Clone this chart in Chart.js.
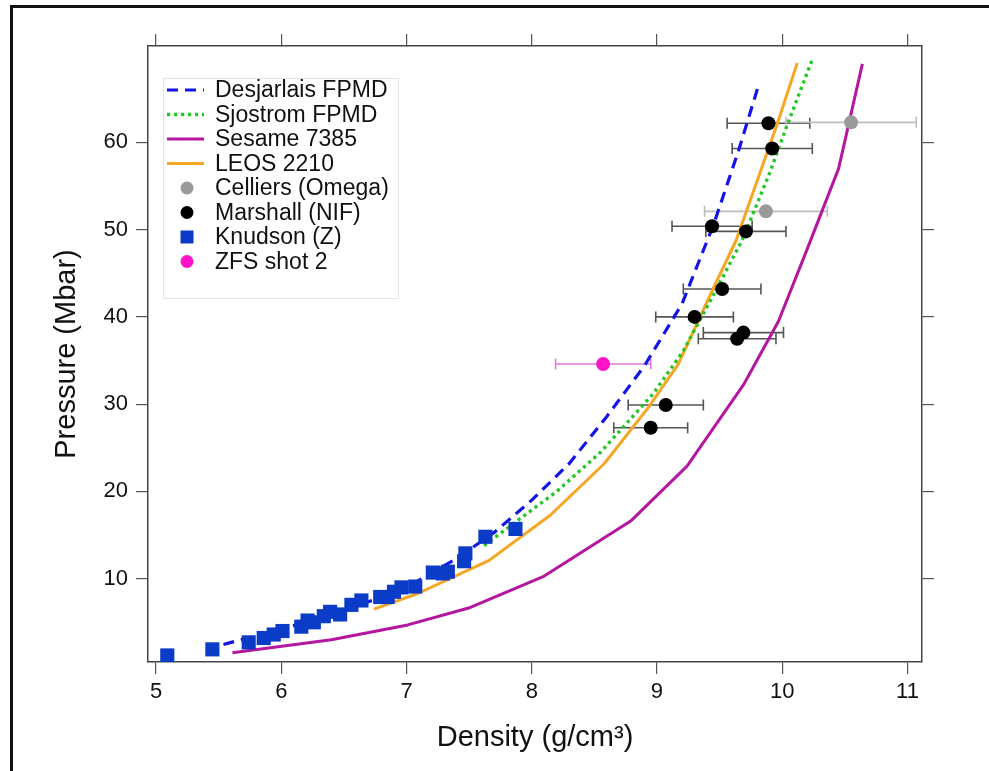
<!DOCTYPE html>
<html><head><meta charset="utf-8">
<script src="https://cdn.jsdelivr.net/npm/chart.js@4.4.1/dist/chart.umd.min.js"></script>
<style>
html,body{margin:0;padding:0;background:#fff;}
#wrap{position:relative;width:989px;height:771px;overflow:hidden;background:#fff;}
#frame{position:absolute;left:10px;top:5px;width:1200px;height:1000px;border-top:3px solid #111;border-left:3px solid #111;pointer-events:none;}
canvas{position:absolute;left:0;top:0;}
</style></head><body>
<div id="wrap"><canvas id="c" width="989" height="771"></canvas><div id="frame"></div></div>
<script>
// ---- tick labels ----
const xTicks = [5, 6, 7, 8, 9, 10, 11];
const yTicks = [10, 20, 30, 40, 50, 60];

// ---- model curves (density g/cm3, pressure Mbar) ----
const desjarlaisDensity  = [5.40, 5.60, 6.00, 6.50, 7.00, 7.40, 7.70, 8.00, 8.30, 8.60, 8.90, 9.20, 9.45, 9.65, 9.81];
const desjarlaisPressure = [1.9, 2.7, 4.2, 6.3, 9.0, 12.3, 15.3, 19.0, 23.2, 28.6, 34.4, 41.5, 50.5, 59.0, 66.5];

const sjostromDensity  = [7.62, 7.90, 8.20, 8.55, 8.97, 9.21, 9.45, 9.68, 9.90, 10.04, 10.24];
const sjostromPressure = [13.8, 16.8, 20.0, 24.5, 31.2, 36.1, 42.5, 48.8, 56.5, 62.0, 69.5];

const sesameDensity  = [5.61, 6.40, 7.01, 7.51, 8.10, 8.79, 9.24, 9.69, 9.97, 10.20, 10.45, 10.64];
const sesamePressure = [1.5, 3.0, 4.7, 6.7, 10.3, 16.6, 22.9, 32.2, 39.5, 47.8, 57.0, 69.0];

const leosDensity  = [6.74, 7.09, 7.66, 8.15, 8.58, 8.93, 9.17, 9.45, 9.63, 9.96, 10.12];
const leosPressure = [6.5, 8.3, 12.1, 17.3, 23.2, 29.6, 34.6, 43.3, 48.7, 62.1, 69.1];

// ---- experiments ----
const celliersDensity  = [10.55, 9.87];
const celliersPressure = [62.3, 52.1];
const celliersDensityErr = [0.52, 0.49];

const marshallDensity  = [9.89, 9.92, 9.44, 9.71, 9.52, 9.30, 9.69, 9.64, 9.07, 8.95];
const marshallPressure = [62.2, 59.3, 50.4, 49.8, 43.2, 40.0, 38.2, 37.5, 29.9, 27.3];
const marshallDensityErr = [0.33, 0.32, 0.32, 0.32, 0.31, 0.31, 0.32, 0.31, 0.30, 0.295];

const knudsonDensity  = [5.09, 5.45, 5.74, 5.86, 5.94, 6.01, 6.16, 6.21, 6.26, 6.34, 6.39, 6.47, 6.56, 6.64, 6.79, 6.85, 6.90, 6.96, 7.07, 7.21, 7.29, 7.33, 7.46, 7.47, 7.63, 7.87];
const knudsonPressure = [1.2, 1.9, 2.7, 3.2, 3.6, 4.0, 4.5, 5.2, 5.0, 5.7, 6.2, 5.9, 7.0, 7.5, 7.9, 7.9, 8.5, 9.0, 9.1, 10.7, 10.6, 10.8, 12.0, 12.9, 14.8, 15.7];

const zfsDensity  = [8.57];
const zfsPressure = [34.6];
const zfsDensityErr = [0.38];

const legendOrder = ['Desjarlais FPMD','Sjostrom FPMD','Sesame 7385','LEOS 2210','Celliers (Omega)','Marshall (NIF)','Knudson (Z)','ZFS shot 2'];

const FONT = '"Liberation Sans", Arial, Helvetica, sans-serif';
const pts = (xs, ys) => xs.map((v, i) => ({x: v, y: ys[i]}));

const errorBarPlugin = {
  id: 'errbars',
  beforeDatasetsDraw(chart) {
    const {ctx, scales: {x, y}} = chart;
    chart.data.datasets.forEach(ds => {
      if (!ds.xErr) return;
      ctx.save();
      ctx.strokeStyle = ds.errColor;
      ctx.lineWidth = 1.6;
      ds.data.forEach((p, i) => {
        const e = ds.xErr[i];
        const x0 = x.getPixelForValue(p.x - e), x1 = x.getPixelForValue(p.x + e), py = y.getPixelForValue(p.y);
        ctx.beginPath();
        ctx.moveTo(x0, py); ctx.lineTo(x1, py);
        ctx.moveTo(x0, py - 5.5); ctx.lineTo(x0, py + 5.5);
        ctx.moveTo(x1, py - 5.5); ctx.lineTo(x1, py + 5.5);
        ctx.stroke();
      });
      ctx.restore();
    });
  }
};

const boxLegendPlugin = {
  id: 'boxlegend',
  afterDraw(chart) {
    const ctx = chart.ctx;
    const L = {left: 163, top: 78, right: 398, bottom: 298};
    ctx.save();
    ctx.fillStyle = '#fff';
    ctx.fillRect(L.left, L.top, L.right - L.left, L.bottom - L.top);
    ctx.strokeStyle = '#e4e4e4';
    ctx.lineWidth = 1;
    ctx.strokeRect(L.left + 0.5, L.top + 0.5, L.right - L.left, L.bottom - L.top);
    ctx.font = '23px ' + FONT;
    ctx.textBaseline = 'middle';
    ctx.textAlign = 'left';
    legendOrder.forEach((label, i) => {
      const ds = chart.data.datasets.find(d => d.label === label);
      const cy = 90 + i * 24.5;
      if (ds.showLine) {
        ctx.save();
        ctx.strokeStyle = ds.borderColor;
        ctx.lineWidth = ds.borderWidth;
        ctx.setLineDash(ds.borderDash || []);
        ctx.beginPath();
        ctx.moveTo(167, cy); ctx.lineTo(204, cy);
        ctx.stroke();
        ctx.restore();
      } else {
        ctx.fillStyle = ds.backgroundColor;
        if (ds.pointStyle === 'rect') {
          ctx.fillRect(187 - 6.5, cy - 6.5, 13, 13);
        } else {
          ctx.beginPath(); ctx.arc(187, cy, 6.5, 0, Math.PI * 2); ctx.fill();
        }
      }
      ctx.fillStyle = '#111';
      ctx.fillText(label, 215, cy + 1);
    });
    ctx.restore();
  }
};

const lineDs = (label, xs, ys, color, dash, width) => ({
  label, data: pts(xs, ys), showLine: true, borderColor: color, backgroundColor: color,
  borderWidth: width, borderDash: dash, pointRadius: 0, pointHoverRadius: 0, tension: 0, order: 10,
  borderCapStyle: 'butt', borderJoinStyle: 'round'
});

const datasets = [
  {label: 'ZFS shot 2', data: pts(zfsDensity, zfsPressure), xErr: zfsDensityErr, errColor: '#e27ad9',
   pointStyle: 'circle', pointRadius: 7, backgroundColor: '#ff14cc', borderWidth: 0, order: 1},
  {label: 'Marshall (NIF)', data: pts(marshallDensity, marshallPressure), xErr: marshallDensityErr, errColor: '#555555',
   pointStyle: 'circle', pointRadius: 7, backgroundColor: '#000000', borderWidth: 0, order: 1},
  {label: 'Celliers (Omega)', data: pts(celliersDensity, celliersPressure), xErr: celliersDensityErr, errColor: '#bdbdbd',
   pointStyle: 'circle', pointRadius: 7, backgroundColor: '#9a9a9a', borderWidth: 0, order: 1},
  {label: 'Knudson (Z)', data: pts(knudsonDensity, knudsonPressure),
   pointStyle: 'rect', pointRadius: 10, backgroundColor: '#0a3cc8', borderWidth: 0, order: 5},
  lineDs('Desjarlais FPMD', desjarlaisDensity, desjarlaisPressure, '#1414e6', [11, 7], 3.2),
  lineDs('Sjostrom FPMD', sjostromDensity, sjostromPressure, '#25c625', [3.2, 3.8], 3.4),
  lineDs('LEOS 2210', leosDensity, leosPressure, '#f5a623', [], 3),
  lineDs('Sesame 7385', sesameDensity, sesamePressure, '#b5169f', [], 3),
];

const xMin = 4.936, xMax = 11.116, yMin = 0.45, yMax = 71.05;
const gridOpt = {drawOnChartArea: false, drawTicks: true, tickLength: 12, color: '#555', lineWidth: 1.2};
const borderOpt = {display: true, color: '#444', width: 1.5};

new Chart(document.getElementById('c'), {
  type: 'scatter',
  data: {datasets},
  plugins: [errorBarPlugin, boxLegendPlugin],
  options: {
    responsive: false,
    animation: false,
    layout: {padding: 0},
    plugins: {legend: {display: false}, tooltip: {enabled: false}},
    scales: {
      x: {
        type: 'linear', position: 'bottom', min: xMin, max: xMax,
        afterBuildTicks: s => { s.ticks = xTicks.map(v => ({value: v})); },
        afterFit: s => { s.height = 109; },
        grid: gridOpt, border: borderOpt,
        ticks: {font: {family: FONT, size: 22}, color: '#111', padding: 5, maxRotation: 0, autoSkip: false},
        title: {display: true, text: 'Density (g/cm³)', font: {family: FONT, size: 29}, color: '#111', padding: {bottom: 16}}
      },
      x2: {
        type: 'linear', position: 'top', min: xMin, max: xMax,
        afterBuildTicks: s => { s.ticks = xTicks.map(v => ({value: v})); },
        afterFit: s => { s.height = 46; },
        grid: gridOpt, border: borderOpt,
        ticks: {display: false}
      },
      y: {
        type: 'linear', position: 'left', min: yMin, max: yMax,
        afterBuildTicks: s => { s.ticks = yTicks.map(v => ({value: v})); },
        afterFit: s => { s.width = 148; },
        grid: gridOpt, border: borderOpt,
        ticks: {font: {family: FONT, size: 22}, color: '#111', padding: 8},
        title: {display: true, text: 'Pressure (Mbar)', font: {family: FONT, size: 29}, color: '#111', padding: {top: 50}}
      },
      y2: {
        type: 'linear', position: 'right', min: yMin, max: yMax,
        afterBuildTicks: s => { s.ticks = yTicks.map(v => ({value: v})); },
        afterFit: s => { s.width = 67; },
        grid: gridOpt, border: borderOpt,
        ticks: {display: false}
      }
    }
  }
});
</script>
</body></html>
